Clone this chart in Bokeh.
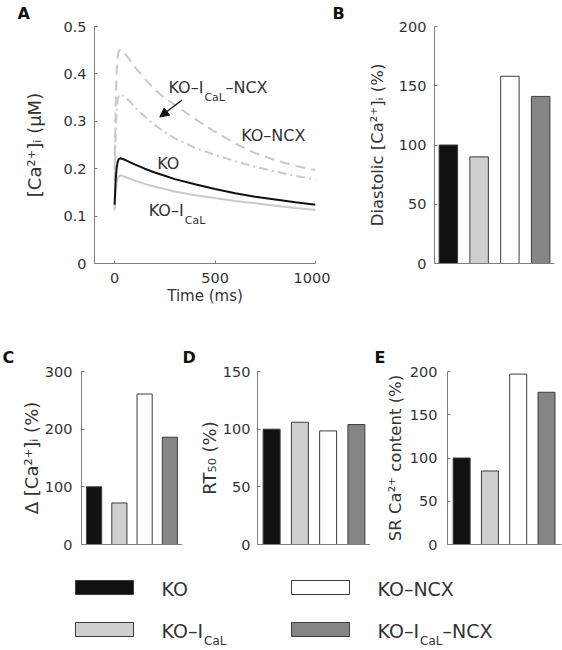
from bokeh.plotting import figure
from bokeh.layouts import column, row
from bokeh.models import Range1d, FixedTicker, Label, Arrow, NormalHead
from bokeh.core.properties import value
from bokeh.embed import file_html
from bokeh.resources import INLINE

# ---------------- data ----------------
time_ms = [0, 5, 10, 15, 20, 30, 50, 75, 100, 150, 200, 250, 300, 400, 500, 600, 700, 800, 900, 1000]
ca_ko = [0.124, 0.175, 0.200, 0.214, 0.220, 0.222, 0.219, 0.214, 0.209, 0.200, 0.192, 0.185, 0.178,
         0.167, 0.157, 0.148, 0.141, 0.135, 0.129, 0.124]
ca_ko_ical = [0.112, 0.150, 0.170, 0.180, 0.184, 0.186, 0.183, 0.179, 0.175, 0.168, 0.162, 0.157, 0.152,
              0.144, 0.138, 0.132, 0.127, 0.122, 0.117, 0.113]
ca_ko_ncx = [0.196, 0.330, 0.400, 0.435, 0.448, 0.451, 0.443, 0.430, 0.415, 0.390, 0.367, 0.349, 0.335,
             0.305, 0.278, 0.253, 0.233, 0.218, 0.206, 0.197]
ca_ko_ical_ncx = [0.175, 0.270, 0.320, 0.343, 0.353, 0.357, 0.352, 0.342, 0.330, 0.310, 0.292, 0.277, 0.264,
                  0.244, 0.229, 0.216, 0.204, 0.194, 0.185, 0.177]

groups = ["KO", "KO-ICaL", "KO-NCX", "KO-ICaL-NCX"]
diastolic_pct = [100, 90, 158, 141]
delta_ca_pct = [100, 72, 261, 186]
rt50_pct = [100, 106, 98.5, 104]
sr_content_pct = [100, 85, 197, 176]
bar_colors = ["#111111", "#cfcfcf", "#ffffff", "#858585"]

a_xticks = [0, 500, 1000]
a_yticks = [0, 0.1, 0.2, 0.3, 0.4, 0.5]
b_yticks = [0, 50, 100, 150, 200]
c_yticks = [0, 100, 200, 300]
d_yticks = [0, 50, 100, 150]
e_yticks = [0, 50, 100, 150, 200]

legend_main = ["KO", "KO–I", "KO–NCX", "KO–I"]
legend_sub = ["", "CaL", "", "CaL"]
legend_tail = ["", "", "", "–NCX"]

# ---------------- style ----------------
FONT = "DejaVu Sans"
AXIS_COLOR = "#7f7f7f"
TEXT_COLOR = "#333333"
EDGE = "#3c3c3c"
LIGHT_LINE = "#c9c9c9"


def make_fig(fw, fh, left, right, top, bottom, xr, yr, letter, offset, standoff):
    p = figure(frame_width=fw, frame_height=fh, min_border_left=left, min_border_right=right,
               min_border_top=top, min_border_bottom=bottom, x_range=xr, y_range=yr,
               output_backend="svg", toolbar_location=None, tools="", title=letter)
    p.grid.visible = False
    p.outline_line_color = None
    p.background_fill_color = "white"
    p.border_fill_color = "white"
    p.title.align = "left"
    p.title.offset = offset
    p.title.standoff = standoff
    p.title.text_font = FONT
    p.title.text_font_size = "16px"
    p.title.text_font_style = "bold"
    p.title.text_color = "#111111"
    p.title.vertical_align = "top"
    for ax in p.axis:
        ax.axis_line_color = AXIS_COLOR
        ax.axis_line_width = 1
        ax.major_tick_line_color = AXIS_COLOR
        ax.major_tick_in = 3
        ax.major_tick_out = 0
        ax.minor_tick_line_color = None
        ax.major_label_text_font = FONT
        ax.major_label_text_font_size = "14.5px"
        ax.major_label_text_color = TEXT_COLOR
        ax.axis_label_text_font = FONT
        ax.axis_label_text_font_size = "16.5px"
        ax.axis_label_text_font_style = "normal"
        ax.axis_label_text_color = TEXT_COLOR
    return p


def bar_panel(fw, fh, left, right, top, bottom, xr, ymax, yticks, values, label, l_std, t_std,
              letter, offset, standoff, label_size="16.5px"):
    p = make_fig(fw, fh, left, right, top, bottom, xr, Range1d(0, ymax), letter, offset, standoff)
    xs = [i + 1 for i in range(len(groups))]
    p.vbar(x=xs, top=values, width=0.6, bottom=0, fill_color=bar_colors,
           line_color=EDGE, line_width=1)
    p.xaxis.ticker = FixedTicker(ticks=[])
    p.xaxis.major_label_text_font_size = "0px"
    p.yaxis.ticker = FixedTicker(ticks=yticks)
    p.yaxis.axis_label = label
    p.yaxis.axis_label_text_font_size = label_size
    p.yaxis.major_label_standoff = t_std
    p.yaxis.axis_label_standoff = l_std
    return p


# ---------------- panel A ----------------
pA = make_fig(221, 237, 94, 15, 26, 48, Range1d(-100, 1000), Range1d(0, 0.5), "A", -77, 3)
pA.xaxis.ticker = FixedTicker(ticks=a_xticks)
pA.yaxis.ticker = FixedTicker(ticks=a_yticks)
pA.yaxis.major_label_overrides = {0: "0"}
pA.xaxis.axis_label = "Time (ms)"
pA.yaxis.axis_label = "[Ca²⁺]ᵢ (μM)"
pA.xaxis.major_label_standoff = 9
pA.xaxis.axis_label_standoff = 1
pA.xaxis.axis_label_text_font_size = "15px"
pA.yaxis.axis_label_text_font_size = "18px"
pA.yaxis.major_label_standoff = 8
pA.yaxis.axis_label_standoff = 15

pA.line(time_ms, ca_ko_ncx, line_color=LIGHT_LINE, line_width=2, line_dash="10 6")
pA.line(time_ms, ca_ko_ical_ncx, line_color=LIGHT_LINE, line_width=2, line_dash="9 4 2 4")
pA.line(time_ms, ca_ko_ical, line_color=LIGHT_LINE, line_width=2)
pA.line(time_ms, ca_ko, line_color="#111111", line_width=2)


def a_text(x, y, txt, dx=0, dy=0, size="16px"):
    pA.add_layout(Label(x=x, y=y, text=txt, x_offset=dx, y_offset=dy, text_font=FONT,
                        text_font_size=size, text_color=TEXT_COLOR,
                        text_baseline="alphabetic", text_align="left"))


a_text(268, 0.371, "KO–I")
a_text(268, 0.371, "CaL", dx=36, dy=-10, size="11px")
a_text(268, 0.371, "–NCX", dx=57)
a_text(630, 0.270, "KO–NCX")
a_text(212, 0.211, "KO")
a_text(170, 0.112, "KO–I")
a_text(170, 0.112, "CaL", dx=36, dy=-10, size="11px")
pA.add_layout(Arrow(end=NormalHead(size=9, fill_color="#111111", line_color="#111111"),
                    x_start=336, y_start=0.345, x_end=225, y_end=0.309,
                    line_color="#111111", line_width=1.2))

# ---------------- panel B ----------------
pB = bar_panel(120, 237, 104, 8, 26, 48, Range1d(0.55, 4.45), 200, b_yticks, diastolic_pct,
               "Diastolic [Ca²⁺]ᵢ (%)", 9, 8, "B", -102, 3)

# ---------------- panels C, D, E ----------------
pC = bar_panel(101, 173, 81, 0, 60, 21, Range1d(0.5, 4.5), 300, c_yticks, delta_ca_pct,
               "Δ [Ca²⁺]ᵢ (%)", 0, 9, "C", -79, 6, label_size="18px")

pD = bar_panel(113, 173, 75, 0, 60, 21, Range1d(0.5, 4.5), 150, d_yticks, rt50_pct,
               "RT₅₀ (%)", 0, 7, "D", -75, 6, label_size="18px")

pE = bar_panel(114, 173, 77, 1, 60, 21, Range1d(0.5, 4.53), 200, e_yticks, sr_content_pct,
               "SR Ca²⁺ content (%)", 2, 10, "E", -73, 6)

# ---------------- legend ----------------
pL = figure(width=562, height=85, x_range=Range1d(0, 562), y_range=Range1d(650, 565),
            min_border=0, output_backend="svg", toolbar_location=None, tools="",
            x_axis_type=None, y_axis_type=None)
pL.grid.visible = False
pL.outline_line_color = None

col_x = [75, 75, 291, 291]
row_y = [580, 622, 580, 622]
rect_w = 58
rect_h = 14
pL.quad(left=col_x, right=[c + rect_w for c in col_x], top=row_y, bottom=[r + rect_h for r in row_y],
        fill_color=bar_colors, line_color=EDGE, line_width=1)
tx = [c + rect_w + 28 for c in col_x]
ty = [r + 8.5 for r in row_y]
pL.text(x=tx, y=ty, text=legend_main, text_font=value(FONT), text_font_size="19px",
        text_color=TEXT_COLOR, text_baseline="alphabetic", text_align="left")
pL.text(x=tx, y=[y + 10 for y in ty], text=legend_sub, x_offset=42.5, text_font=value(FONT),
        text_font_size="12px", text_color=TEXT_COLOR, text_baseline="alphabetic", text_align="left")
pL.text(x=tx, y=ty, text=legend_tail, x_offset=65, text_font=value(FONT), text_font_size="19px",
        text_color=TEXT_COLOR, text_baseline="alphabetic", text_align="left")

layout = column(row(pA, pB), row(pC, pD, pE), pL)

open("out.html", "w").write(file_html(layout, INLINE))
